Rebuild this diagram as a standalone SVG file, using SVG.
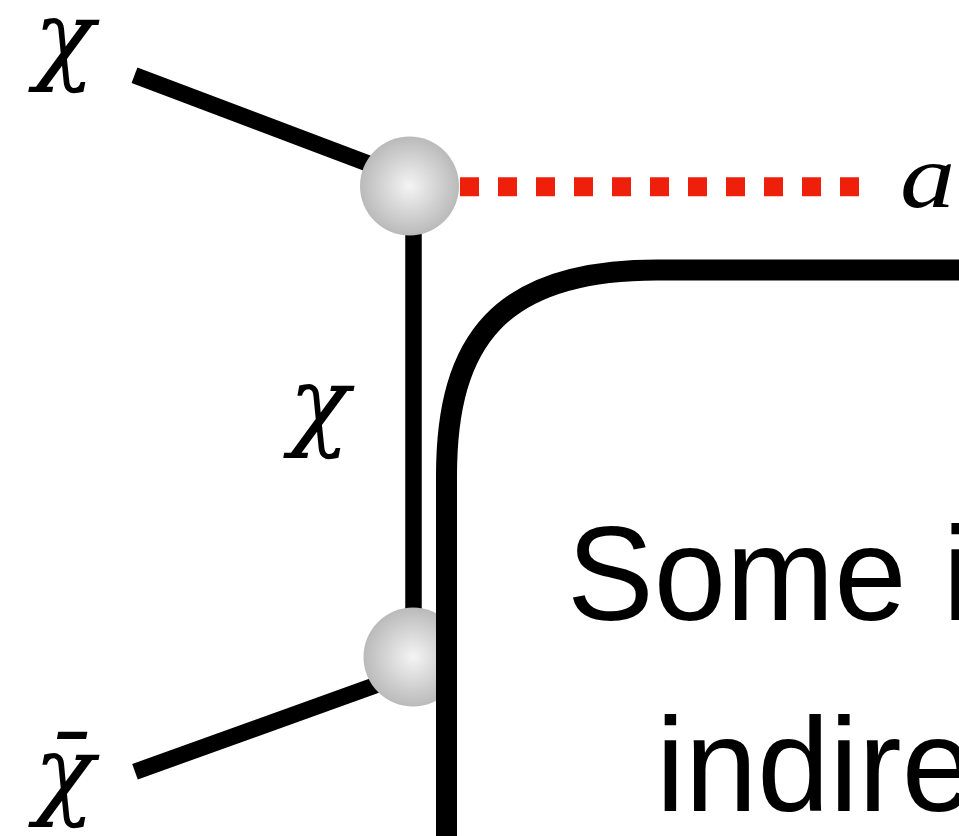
<svg xmlns="http://www.w3.org/2000/svg" width="959" height="836" viewBox="0 0 959 836">
<style>
.math{font-family:"Liberation Serif",serif;font-style:italic;fill:#000}
.chi{font-family:"DejaVu Serif",serif;font-size:100px}
.body{font-family:"Liberation Sans",Arial,sans-serif;font-size:130px;fill:#000}
.line{stroke:#000;stroke-width:16.5;fill:none}
.ball{fill:url(#ballGrad)}
</style>
<defs>
<radialGradient id="ballGrad"><stop offset="0" stop-color="#f4f4f4"/><stop offset="0.55" stop-color="#d4d4d4"/><stop offset="1" stop-color="#bababa"/></radialGradient>
</defs>
<rect width="959" height="836" fill="#fff"/>
<g id="connectors">
<line class="line" x1="134.5" y1="75.3" x2="380" y2="168"/>
<line class="line" x1="413.5" y1="190" x2="413.5" y2="650"/>
<line class="line" x1="135" y1="771.7" x2="390" y2="680"/>
<line x1="460" y1="186.7" x2="859" y2="186.7" stroke="#ee200c" stroke-width="19" stroke-dasharray="19 19"/>
</g>
<g id="vertex-top"><circle class="ball" cx="409.5" cy="186" r="49.5"/></g>
<g id="vertex-bottom"><circle class="ball" cx="413" cy="657" r="49.5"/></g>
<g id="box">
<path d="M446.5 850V476C446.5 340 500 270 657 270H970V850Z" fill="#fff" stroke="#000" stroke-width="21"/>
<text class="body" transform="translate(567 620) scale(1 1.03)">Some i</text>
<text class="body" transform="translate(656 811) scale(1 1.03)">indire</text>
</g>
<g id="label-chi-top"><text class="math chi" x="34" y="71">χ</text></g>
<g id="label-chi-mid"><text class="math chi" x="289" y="437">χ</text></g>
<g id="label-chibar"><text class="math chi" x="34" y="806">χ̄</text></g>
<g id="label-a"><text class="math" font-size="92" transform="translate(900 207) scale(1.2 1)">a</text></g>
</svg>
